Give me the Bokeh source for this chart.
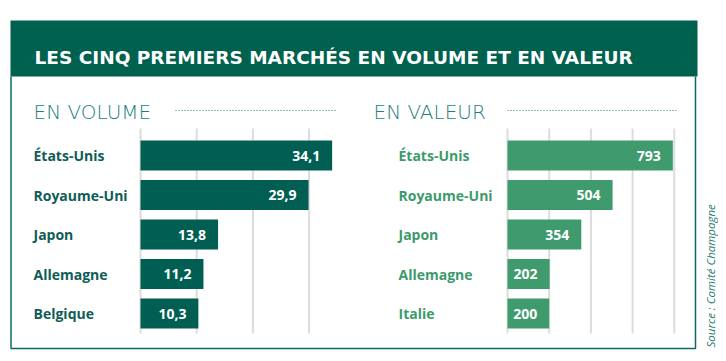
import numpy as np
from bokeh.plotting import figure
from bokeh.models import Range1d, ColumnDataSource
from bokeh.core.properties import value
from bokeh.embed import file_html
from bokeh.resources import INLINE

# ---- data ----
title = "LES CINQ PREMIERS MARCHÉS EN VOLUME ET EN VALEUR"
vol_title = "EN VOLUME"
val_title = "EN VALEUR"
source_note = "Source : Comité Champagne"

vol_countries = ["États-Unis", "Royaume-Uni", "Japon", "Allemagne", "Belgique"]
vol_values = [34.1, 29.9, 13.8, 11.2, 10.3]
vol_ticks = [0, 10, 20, 30]

val_countries = ["États-Unis", "Royaume-Uni", "Japon", "Allemagne", "Italie"]
val_values = [793, 504, 354, 202, 200]
val_ticks = [0, 200, 400, 600, 800]

# ---- style ----
HDR = "#00614f"
DARK = "#005f52"
LIGHT = "#3f9b6e"
LABEL_DARK = "#0f5c58"
LABEL_LIGHT = "#3d9a6c"
TEAL = "#1f7f7e"
GRID = "#dcdcdc"

W, H = 718, 353
p = figure(width=W, height=H, x_range=Range1d(0, W), y_range=Range1d(H, 0),
           output_backend="svg", toolbar_location=None, min_border=0,
           x_axis_location=None, y_axis_location=None, outline_line_color=None)
p.grid.visible = False
p.background_fill_color = "white"
p.border_fill_color = "white"

vol_px, vol_zero = 5.62, 140
val_px, val_zero = 0.2085, 507
row_px, row_zero = 39.5, 155
p.extra_x_ranges = {
    "vol": Range1d(-vol_zero / vol_px, (W - vol_zero) / vol_px),
    "val": Range1d(-val_zero / val_px, (W - val_zero) / val_px),
}
p.extra_y_ranges = {"rows": Range1d((H - row_zero) / row_px, -row_zero / row_px)}

# header band and frame
p.quad(left=[10], right=[697], top=[20], bottom=[76], fill_color=HDR, line_color=None)
p.line(x=[10.5, 10.5, 695, 695], y=[76, 348, 348, 76], line_color="#0b6a60", line_width=1.5)
p.text(x=[34], y=[56.5], text=[title], text_font=value("DejaVu Sans"), text_font_style="bold",
       text_font_size="18.5px", text_color="white", text_baseline="alphabetic")

# section titles + dotted rules
p.text(x=[33, 373], y=[111, 111], text=[vol_title, val_title],
       text_font=value("'DejaVu Sans ExtraLight', 'DejaVu Sans Light', 'Lato Light', sans-serif"),
       text_font_size="20px", text_color=TEAL, text_baseline="alphabetic")
p.segment(x0=[175, 507], x1=[337, 677], y0=[110, 110], y1=[110, 110],
          line_color=TEAL, line_width=1, line_dash="1 2")

# source
p.text(x=[710], y=[347], text=[source_note], angle=np.pi / 2, text_align="left",
       text_baseline="middle", text_font=value("Open Sans"), text_font_style="italic",
       text_font_size="11.5px", text_color="#2a7a70")


def panel(countries, values, ticks, rname, bar_color, label_color, label_x, fmt):
    src = ColumnDataSource(dict(
        y=list(range(len(countries))), c=countries, v=values,
        lab=[fmt(v) for v in values]))
    p.segment(x0=ticks, x1=ticks, y0=[128] * len(ticks), y1=[333] * len(ticks),
              x_range_name=rname, line_color=GRID, line_width=2)
    p.hbar(y="y", left=0, right="v", height=0.76, source=src, x_range_name=rname,
           y_range_name="rows", fill_color=bar_color, line_color=None)
    p.text(x=label_x, y="y", text="c", source=src, y_range_name="rows",
           text_font=value("Open Sans"), text_font_style="bold", text_font_size="14px",
           text_color=label_color, text_baseline="middle")
    p.text(x="v", y="y", text="lab", source=src, x_range_name=rname, y_range_name="rows",
           x_offset=-12, text_align="right", text_baseline="middle",
           text_font=value("Open Sans"), text_font_style="bold", text_font_size="14px",
           text_color="white")


panel(vol_countries, vol_values, vol_ticks, "vol", DARK, LABEL_DARK, 33,
      lambda v: f"{v:.1f}".replace(".", ","))
panel(val_countries, val_values, val_ticks, "val", LIGHT, LABEL_LIGHT, 398,
      lambda v: f"{v:d}")

open("out.html", "w").write(file_html(p, INLINE))
